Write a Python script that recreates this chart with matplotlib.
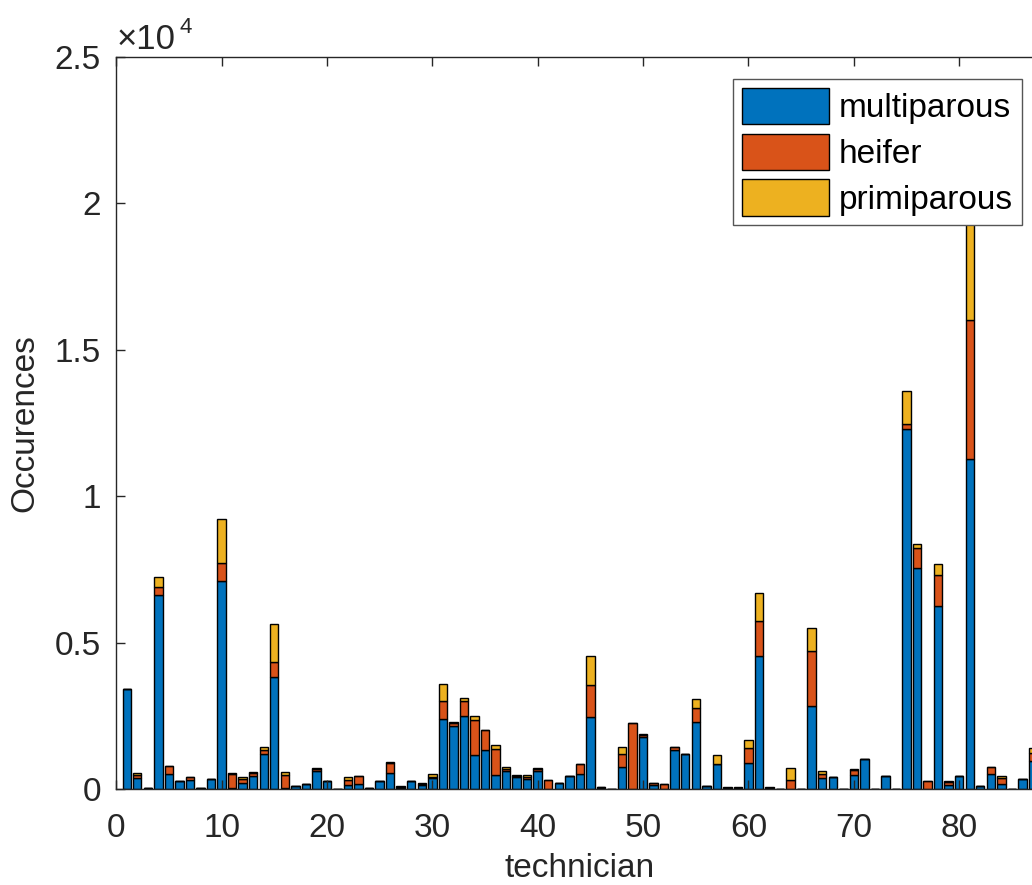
import numpy as np
import matplotlib
matplotlib.use("Agg")
import matplotlib.pyplot as plt
from matplotlib.ticker import FuncFormatter

plt.rcParams['font.family'] = ['Liberation Sans', 'DejaVu Sans']

# --- data (technician 1..87) ---
multiparous = [3420, 390, 30, 6630, 510, 285, 300, 30, 350, 7100,
               40, 200, 450, 1190, 3840, 20, 100, 160, 610, 280,
               10, 130, 160, 20, 280, 537, 40, 270, 120, 365,
               2390, 2150, 2500, 1150, 1320, 470, 620, 410, 340, 610,
               10, 216, 455, 520, 2460, 30, 10, 760, 10, 1770,
               140, 10, 1345, 1197, 2290, 113, 845, 30, 30, 900,
               4540, 30, 5, 10, 0, 2840, 376, 400, 5, 468,
               1015, 0, 445, 0, 12310, 7540, 10, 6260, 137, 445,
               11270, 100, 524, 171, 0, 331, 969]
heifer = [0, 80, 0, 280, 270, 0, 100, 0, 0, 610,
          470, 130, 100, 150, 500, 460, 0, 0, 80, 0,
          0, 190, 290, 0, 0, 340, 40, 0, 40, 50,
          630, 100, 520, 1210, 700, 910, 60, 40, 80, 80,
          290, 0, 0, 320, 1085, 30, 0, 425, 2250, 60,
          50, 160, 80, 0, 470, 0, 10, 20, 20, 490,
          1190, 20, 0, 300, 0, 1870, 130, 0, 0, 190,
          0, 0, 0, 0, 160, 680, 275, 1050, 90, 0,
          4750, 0, 228, 205, 0, 0, 250]
primiparous = [0, 90, 0, 330, 10, 0, 20, 0, 0, 1510,
               30, 90, 40, 110, 1300, 100, 0, 0, 40, 0,
               0, 80, 10, 0, 0, 45, 30, 0, 30, 110,
               560, 30, 100, 125, 0, 136, 60, 30, 60, 15,
               10, 0, 0, 5, 1000, 20, 0, 260, 0, 60,
               25, 0, 0, 0, 310, 0, 295, 10, 10, 290,
               950, 10, 0, 420, 0, 800, 100, 0, 0, 15,
               0, 0, 0, 0, 1130, 150, 0, 370, 35, 0,
               4500, 0, 0, 69, 0, 0, 170]
labels = ['multiparous', 'heifer', 'primiparous']
colors = ['#0072BD', '#D95319', '#EDB120']

multi = np.array(multiparous, dtype=float)
heif = np.array(heifer, dtype=float)
prim = np.array(primiparous, dtype=float)
tech = np.arange(1, len(multi) + 1)

W, H = 1032, 885
fig = plt.figure(figsize=(W / 100, H / 100), dpi=100)
# axes box runs past the right edge of the picture (cropped, as in the reference)
ax = fig.add_axes([116.2 / W, (H - 789) / H, 927.3 / W, 732 / H])

bar_kw = dict(width=0.8, edgecolor='black', linewidth=1.0)
ax.bar(tech, multi, color=colors[0], label=labels[0], **bar_kw)
ax.bar(tech, heif, bottom=multi, color=colors[1], label=labels[1], **bar_kw)
ax.bar(tech, prim, bottom=multi + heif, color=colors[2], label=labels[2], **bar_kw)

ax.set_xlim(0, 88)
ax.set_ylim(0, 25000)
ax.set_xticks(np.arange(0, 81, 10))
ax.set_yticks(np.arange(0, 25001, 5000))
ax.yaxis.set_major_formatter(FuncFormatter(lambda v, p: f'{v / 1e4:g}'))

dark = '#262626'
for s in ax.spines.values():
    s.set_color(dark)
    s.set_linewidth(1.0)
ax.tick_params(direction='in', top=True, right=True, length=6.5, width=1.0,
               colors=dark, labelsize=24)
ax.tick_params(axis='x', pad=17)
ax.tick_params(axis='y', pad=11)

ax.set_xlabel('technician', fontsize=24, color=dark)
ax.set_ylabel('Occurences', fontsize=24, color=dark)
ax.xaxis.set_label_coords(0.5, (789 - 853) / 732)
ax.yaxis.set_label_coords((40 - 116.2) / 927.3, 0.5)

# exponent label at the top of the y axis
fig.text(117 / W, 1 - 49 / H, '×10', fontsize=25, color=dark, va='baseline', ha='left')
fig.text(180 / W, 1 - 33 / H, '4', fontsize=16, color=dark, va='baseline', ha='left')

leg = ax.legend(loc='upper right', bbox_to_anchor=(1021.7 / W, 1 - 79 / H),
                bbox_transform=fig.transFigure, borderaxespad=0, fontsize=24,
                fancybox=False, framealpha=1, edgecolor='#555555',
                handlelength=2.6, handleheight=1.29, handletextpad=0.3,
                labelspacing=0.285, borderpad=0.27)
leg.get_frame().set_linewidth(1.0)

fig.savefig('out.png', dpi=100)
